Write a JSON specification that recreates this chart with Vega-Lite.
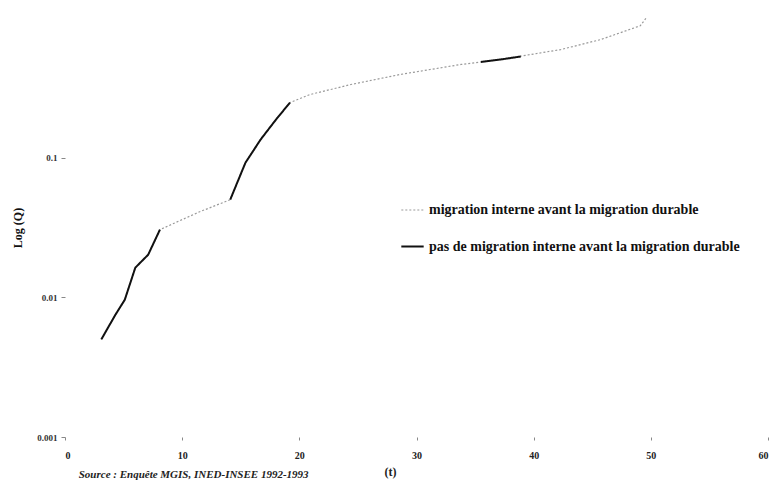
{
  "$schema": "https://vega.github.io/schema/vega-lite/v6.json",
  "autosize": {"type": "none"},
  "width": 703,
  "height": 419,
  "padding": {"left": 65, "top": 18, "right": 7, "bottom": 45},
  "background": "white",
  "config": {
    "view": {"stroke": null},
    "font": "Liberation Serif"
  },
  "title": {
    "text": "Source : Enquête MGIS, INED-INSEE 1992-1993",
    "orient": "bottom",
    "anchor": "start",
    "font": "Liberation Serif",
    "fontSize": 11,
    "fontStyle": "italic",
    "fontWeight": "bold",
    "color": "#222",
    "offset": -8,
    "dx": 67
  },
  "data": {
    "values": [
      {"t": 3.1, "q": 0.0050, "s": "migration interne avant la migration durable"},
      {"t": 4.3, "q": 0.0075, "s": "migration interne avant la migration durable"},
      {"t": 5.1, "q": 0.0096, "s": "migration interne avant la migration durable"},
      {"t": 6.0, "q": 0.0163, "s": "migration interne avant la migration durable"},
      {"t": 7.1, "q": 0.0202, "s": "migration interne avant la migration durable"},
      {"t": 8.1, "q": 0.0305, "s": "migration interne avant la migration durable"},
      {"t": 9.4, "q": 0.0342, "s": "migration interne avant la migration durable"},
      {"t": 11.5, "q": 0.041, "s": "migration interne avant la migration durable"},
      {"t": 14.1, "q": 0.050, "s": "migration interne avant la migration durable"},
      {"t": 15.4, "q": 0.092, "s": "migration interne avant la migration durable"},
      {"t": 16.7, "q": 0.135, "s": "migration interne avant la migration durable"},
      {"t": 18.0, "q": 0.187, "s": "migration interne avant la migration durable"},
      {"t": 19.2, "q": 0.248, "s": "migration interne avant la migration durable"},
      {"t": 20.9, "q": 0.283, "s": "migration interne avant la migration durable"},
      {"t": 24.4, "q": 0.334, "s": "migration interne avant la migration durable"},
      {"t": 28.6, "q": 0.394, "s": "migration interne avant la migration durable"},
      {"t": 33.8, "q": 0.465, "s": "migration interne avant la migration durable"},
      {"t": 37.2, "q": 0.505, "s": "migration interne avant la migration durable"},
      {"t": 42.3, "q": 0.594, "s": "migration interne avant la migration durable"},
      {"t": 45.7, "q": 0.70, "s": "migration interne avant la migration durable"},
      {"t": 49.1, "q": 0.88, "s": "migration interne avant la migration durable"},
      {"t": 49.6, "q": 1.0, "s": "migration interne avant la migration durable"},
      {"t": 3.1, "q": 0.0050, "s": "pas de migration interne avant la migration durable"},
      {"t": 4.3, "q": 0.0075, "s": "pas de migration interne avant la migration durable"},
      {"t": 5.1, "q": 0.0096, "s": "pas de migration interne avant la migration durable"},
      {"t": 6.0, "q": 0.0163, "s": "pas de migration interne avant la migration durable"},
      {"t": 7.1, "q": 0.0202, "s": "pas de migration interne avant la migration durable"},
      {"t": 8.1, "q": 0.0305, "s": "pas de migration interne avant la migration durable"},
      {"t": 9.0, "q": null, "s": "pas de migration interne avant la migration durable"},
      {"t": 14.1, "q": 0.050, "s": "pas de migration interne avant la migration durable"},
      {"t": 15.4, "q": 0.092, "s": "pas de migration interne avant la migration durable"},
      {"t": 16.7, "q": 0.135, "s": "pas de migration interne avant la migration durable"},
      {"t": 18.0, "q": 0.187, "s": "pas de migration interne avant la migration durable"},
      {"t": 19.2, "q": 0.248, "s": "pas de migration interne avant la migration durable"},
      {"t": 20.0, "q": null, "s": "pas de migration interne avant la migration durable"},
      {"t": 35.5, "q": 0.485, "s": "pas de migration interne avant la migration durable"},
      {"t": 37.2, "q": 0.505, "s": "pas de migration interne avant la migration durable"},
      {"t": 38.9, "q": 0.530, "s": "pas de migration interne avant la migration durable"}
    ]
  },
  "mark": {"type": "line", "invalid": "break-paths-show-domains", "clip": false},
  "encoding": {
    "x": {
      "field": "t",
      "type": "quantitative",
      "scale": {"domain": [0, 60], "nice": false},
      "axis": {
        "title": "(t)",
        "values": [0, 10, 20, 30, 40, 50, 60],
        "domain": false,
        "grid": false,
        "tickSize": 3,
        "tickColor": "#888",
        "labelFont": "Liberation Serif",
        "labelFontSize": 10,
        "labelFontWeight": "bold",
        "labelColor": "#222",
        "labelPadding": 10,
        "titleFont": "Liberation Serif",
        "titleFontSize": 12,
        "titleFontWeight": "bold",
        "titleColor": "#222",
        "titleX": 325,
        "titlePadding": 6
      }
    },
    "y": {
      "field": "q",
      "type": "quantitative",
      "scale": {"type": "log", "domain": [0.001, 1], "nice": false},
      "axis": {
        "title": "Log (Q)",
        "values": [0.001, 0.01, 0.1],
        "format": "~g",
        "domain": false,
        "grid": false,
        "tickSize": 4,
        "tickColor": "#888",
        "labelFont": "Liberation Serif",
        "labelFontSize": 9,
        "labelFontWeight": "bold",
        "labelColor": "#333",
        "labelPadding": 4,
        "titleFont": "Liberation Serif",
        "titleFontSize": 12,
        "titleFontWeight": "bold",
        "titleColor": "#111",
        "titlePadding": 12
      }
    },
    "color": {
      "field": "s",
      "type": "nominal",
      "scale": {
        "domain": ["migration interne avant la migration durable", "pas de migration interne avant la migration durable"],
        "range": ["#9a9a9a", "#111111"]
      },
      "legend": {
        "title": null,
        "orient": "none",
        "legendX": 335,
        "legendY": 180,
        "labelFont": "Liberation Serif",
        "labelFontSize": 14,
        "labelFontWeight": "bold",
        "labelColor": "#111",
        "labelLimit": 0,
        "rowPadding": 17,
        "symbolType": "stroke",
        "symbolSize": 500,
        "labelOffset": 4
      }
    },
    "strokeDash": {
      "field": "s",
      "type": "nominal",
      "scale": {
        "domain": ["migration interne avant la migration durable", "pas de migration interne avant la migration durable"],
        "range": [[2, 2], [1, 0]]
      },
      "legend": null
    },
    "strokeWidth": {
      "field": "s",
      "type": "nominal",
      "scale": {
        "domain": ["migration interne avant la migration durable", "pas de migration interne avant la migration durable"],
        "range": [1.2, 2]
      },
      "legend": null
    }
  }
}
